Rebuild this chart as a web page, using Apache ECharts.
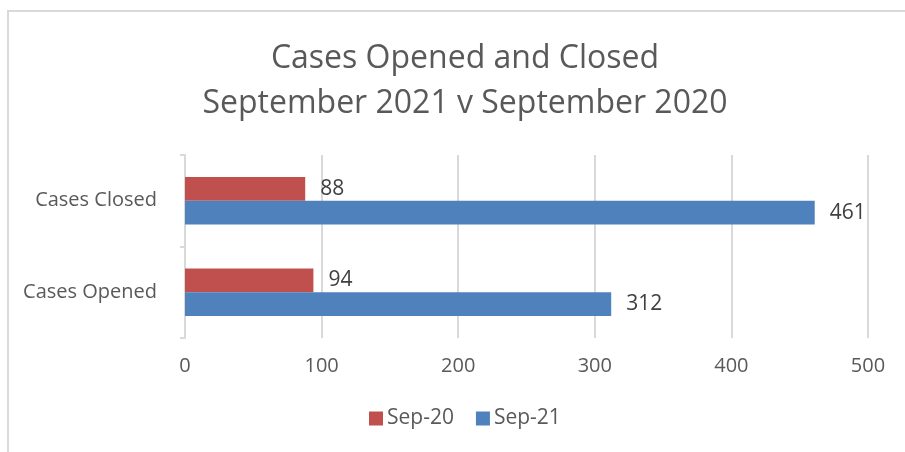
<!DOCTYPE html>
<html>
<head>
<meta charset="utf-8">
<script src="https://cdn.jsdelivr.net/npm/echarts@6/dist/echarts.min.js"></script>
<style>
html,body{margin:0;padding:0;background:#fff;}
#chart{width:905px;height:452px;}
</style>
</head>
<body>
<div id="chart"></div>
<script>
var categories = ['Cases Opened', 'Cases Closed'];
var sep20 = [94, 88];
var sep21 = [312, 461];
var xTicks = [0, 100, 200, 300, 400, 500];
var seriesNames = ['Sep-20', 'Sep-21'];

var FONT = '"Open Sans", "Noto Sans", sans-serif';
var chart = echarts.init(document.getElementById('chart'), null, {renderer: 'canvas'});
var labelCfg = {show: true, position: 'right', distance: 15, color: '#404040', fontSize: 21, fontFamily: FONT};
chart.setOption({
  animation: false,
  backgroundColor: '#ffffff',
  graphic: [{
    type: 'rect', silent: true, z: -10,
    shape: {x: 8, y: 11, width: 1000, height: 1000},
    style: {fill: 'none', stroke: '#d9d9d9', lineWidth: 2}
  }],
  title: {
    text: 'Cases Opened and Closed\nSeptember 2021 v September 2020',
    left: 460, top: 31, textAlign: 'center',
    textStyle: {fontFamily: FONT, fontSize: 32, fontWeight: 'normal', color: '#595959', lineHeight: 45, align: 'center'}
  },
  legend: {
    data: seriesNames,
    bottom: 18, left: 364, padding: 5,
    icon: 'rect', itemWidth: 14, itemHeight: 14, itemGap: 22,
    textStyle: {fontFamily: FONT, fontSize: 21, color: '#595959', padding: [0, 0, 0, -1]}
  },
  grid: {left: 185, right: 37, top: 155, bottom: 114, containLabel: false},
  xAxis: {
    type: 'value', min: xTicks[0], max: xTicks[xTicks.length - 1], interval: 100,
    axisLine: {show: false}, axisTick: {show: false},
    splitLine: {show: true, lineStyle: {color: '#d9d9d9', width: 2}},
    axisLabel: {fontFamily: FONT, fontSize: 20, color: '#595959', margin: 18,
      formatter: function (v) { return xTicks.indexOf(v) >= 0 ? String(v) : ''; }}
  },
  yAxis: {
    type: 'category', data: categories,
    axisLine: {show: true, lineStyle: {color: '#d9d9d9', width: 2}},
    axisTick: {show: true, length: 5, lineStyle: {color: '#d9d9d9', width: 2}},
    axisLabel: {fontFamily: FONT, fontSize: 20, color: '#595959', margin: 28}
  },
  series: [
    {name: seriesNames[0], type: 'bar', data: sep20, barGap: '0%', barCategoryGap: '48%',
      itemStyle: {color: '#c0504d'}, label: labelCfg},
    {name: seriesNames[1], type: 'bar', data: sep21, barGap: '0%', barCategoryGap: '48%',
      itemStyle: {color: '#4f81bd'}, label: labelCfg}
  ]
});
</script>
</body>
</html>
